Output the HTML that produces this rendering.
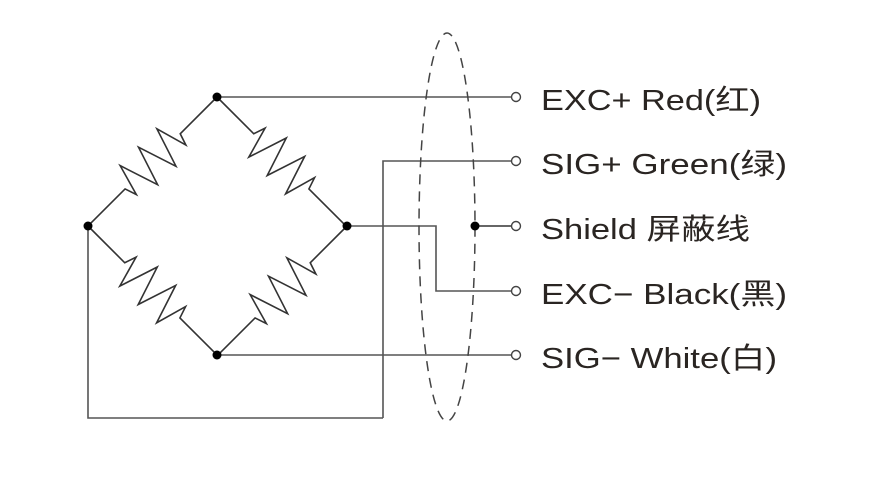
<!DOCTYPE html>
<html><head><meta charset="utf-8"><style>
html,body{margin:0;padding:0;background:#fff;width:873px;height:495px;overflow:hidden}
text{font-family:"Liberation Sans","Noto Sans CJK SC",sans-serif;font-size:29px;fill:#2a2522}
</style></head><body>
<svg width="873" height="495" viewBox="0 0 873 495" xmlns="http://www.w3.org/2000/svg">
<defs>
<path id="r" d="M0,0 L52,0 L56,-12 L65,20 L78,-20 L91,20 L104,-20 L117,20 L126,-12 L130,0 L182.4,0" fill="none" stroke="#333" stroke-width="1.6" stroke-linejoin="miter"/>
</defs>
<use href="#r" transform="translate(217,97) rotate(135)"/>
<use href="#r" transform="translate(217,97) rotate(45)"/>
<use href="#r" transform="translate(88,226) rotate(45)"/>
<use href="#r" transform="translate(347,226) rotate(135)"/>
<g stroke="#555" stroke-width="1.6" fill="none">
<path d="M217,97 H511"/>
<path d="M383,418 V161 H511"/>
<path d="M347,226 H436 V291 H511"/>
<path d="M475,226 H511" stroke="#333"/>
<path d="M217,355 H511"/>
<path d="M88,226 V418 H383"/>
</g>
<ellipse cx="447" cy="227" rx="28" ry="194" fill="none" stroke="#444" stroke-width="1.5" stroke-dasharray="10,7"/>
<g fill="#000">
<circle cx="217" cy="97" r="4.5"/><circle cx="88" cy="226" r="4.5"/>
<circle cx="347" cy="226" r="4.5"/><circle cx="217" cy="355" r="4.5"/>
<circle cx="475" cy="226" r="4.5"/>
</g>
<g fill="#fff" stroke="#444" stroke-width="1.4">
<circle cx="516" cy="97" r="4.5"/><circle cx="516" cy="161" r="4.5"/>
<circle cx="516" cy="226" r="4.5"/><circle cx="516" cy="291" r="4.5"/>
<circle cx="516" cy="355" r="4.5"/>
</g>
<text x="541" y="110" textLength="220" lengthAdjust="spacingAndGlyphs">EXC+ Red(红)</text>
<text x="541" y="174" textLength="246" lengthAdjust="spacingAndGlyphs">SIG+ Green(绿)</text>
<text x="541" y="239" textLength="209" lengthAdjust="spacingAndGlyphs">Shield  屏蔽线</text>
<text x="541" y="304" textLength="246" lengthAdjust="spacingAndGlyphs">EXC− Black(黑)</text>
<text x="541" y="368" textLength="236" lengthAdjust="spacingAndGlyphs">SIG− White(白)</text>
</svg>
</body></html>
